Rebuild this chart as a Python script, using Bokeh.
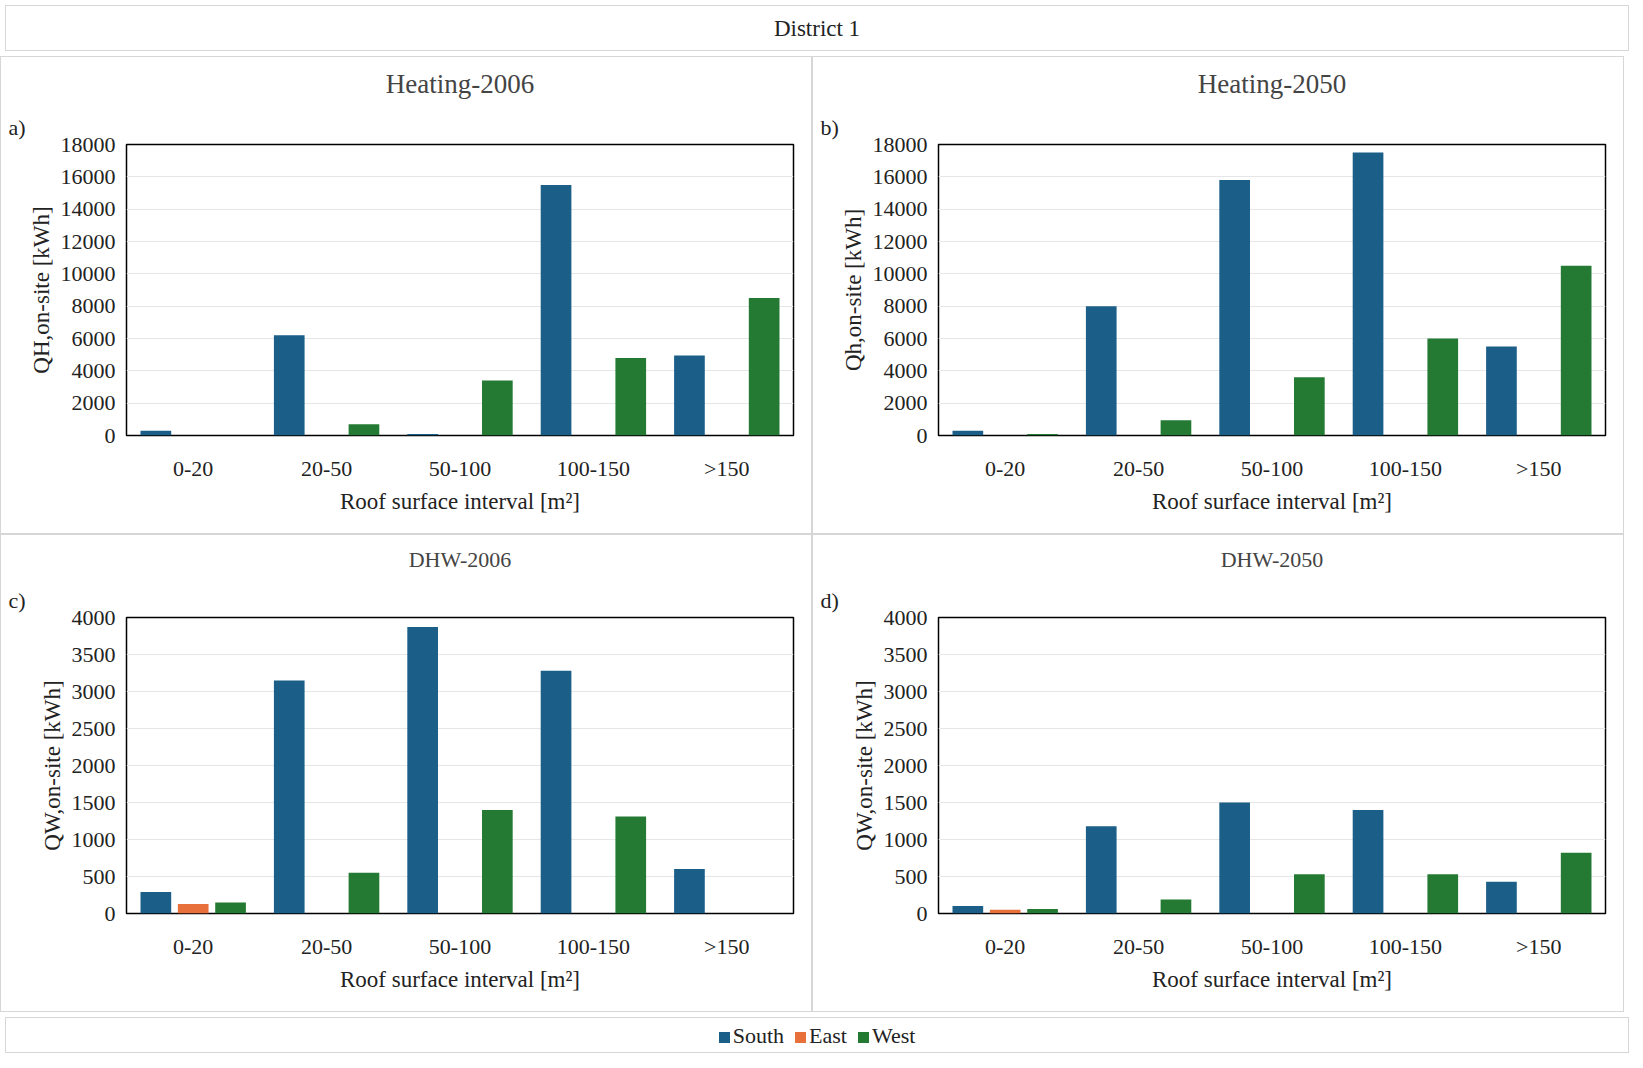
from bokeh.plotting import figure
from bokeh.models import FactorRange, Range1d, SingleIntervalTicker, Title, Div, ColumnDataSource
from bokeh.transform import dodge
from bokeh.layouts import column, row
from bokeh.embed import file_html
from bokeh.resources import INLINE

cats = ["0-20", "20-50", "50-100", "100-150", ">150"]
h06_south = [300, 6200, 100, 15500, 4950]
h06_east = [0, 0, 0, 0, 0]
h06_west = [0, 700, 3400, 4800, 8500]
h50_south = [300, 8000, 15800, 17500, 5500]
h50_east = [0, 0, 0, 0, 0]
h50_west = [100, 950, 3600, 6000, 10500]
d06_south = [290, 3150, 3870, 3280, 600]
d06_east = [130, 0, 0, 0, 0]
d06_west = [150, 550, 1400, 1310, 0]
d50_south = [100, 1180, 1500, 1400, 430]
d50_east = [50, 0, 0, 0, 0]
d50_west = [60, 190, 530, 530, 820]

C_S, C_E, C_W = "#1b5f88", "#e8703a", "#257a33"
FONT = "Liberation Serif"
W, H = 812, 478

def panel(tag, title, ylab, s, e, w, ymax, step, title_size):
    src = ColumnDataSource(dict(c=cats, s=s, e=e, w=w))
    p = figure(x_range=FactorRange(*cats), y_range=Range1d(0, ymax), width=W, height=H,
               output_backend="svg", toolbar_location=None,
               min_border_left=125, min_border_right=20, min_border_top=10, min_border_bottom=100)
    p.title.text = title
    p.title.align = "center"
    p.title.text_font = FONT
    p.title.text_font_style = "normal"
    p.title.text_font_size = title_size
    p.title.offset = 0
    p.title.standoff = 18
    p.add_layout(Title(text=tag, align="left", offset=-118, text_font=FONT, text_font_style="normal",
                       text_font_size="22px", text_color="#222"), "above")
    for off, col, colr in [(-0.28, "s", C_S), (0, "e", C_E), (0.28, "w", C_W)]:
        p.vbar(x=dodge("c", off, range=p.x_range), top=col, width=0.23, source=src,
               fill_color=colr, line_color=None)
    p.yaxis.ticker = SingleIntervalTicker(interval=step)
    p.outline_line_color = "black"
    p.outline_line_width = 1.5
    p.xgrid.grid_line_color = None
    p.ygrid.grid_line_color = "#e6e6e6"
    for ax in (p.xaxis, p.yaxis):
        ax.axis_line_color = None
        ax.major_tick_line_color = None
        ax.minor_tick_line_color = None
        ax.major_label_text_font = FONT
        ax.major_label_text_font_size = "22px"
        ax.major_label_text_color = "#222"
        ax.axis_label_text_font = FONT
        ax.axis_label_text_font_style = "normal"
        ax.axis_label_text_font_size = "23px"
        ax.axis_label_text_color = "#222"
    p.xaxis.axis_label = "Roof surface interval [m²]"
    p.yaxis.axis_label = ylab
    p.xaxis.major_label_standoff = 14
    p.yaxis.axis_label_standoff = 4
    p.styles = {"border": "1px solid #d6d6d6"}
    return p

pa = panel("a)", "Heating-2006", "QH,on-site [kWh]", h06_south, h06_east, h06_west, 18000, 2000, "27px")
pb = panel("b)", "Heating-2050", "Qh,on-site [kWh]", h50_south, h50_east, h50_west, 18000, 2000, "27px")
pc = panel("c)", "DHW-2006", "QW,on-site [kWh]", d06_south, d06_east, d06_west, 4000, 500, "22px")
pd = panel("d)", "DHW-2050", "QW,on-site [kWh]", d50_south, d50_east, d50_west, 4000, 500, "22px")

title = Div(text="District 1", width=2 * W, height=46,
            styles={"font-family": FONT, "font-size": "23px", "text-align": "center",
                    "line-height": "46px", "border": "1px solid #d6d6d6", "width": f"{2*W}px",
                    "box-sizing": "border-box", "color": "#222"})
sq = lambda c: f'<span style="display:inline-block;width:11px;height:11px;background:{c};margin-right:3px"></span>'
legend = Div(text=f'{sq(C_S)}South&nbsp;&nbsp;{sq(C_E)}East&nbsp;&nbsp;{sq(C_W)}West', width=2 * W, height=36,
             styles={"font-family": FONT, "font-size": "22px", "text-align": "center",
                     "line-height": "36px", "border": "1px solid #d6d6d6", "width": f"{2*W}px",
                     "box-sizing": "border-box", "color": "#222"})

layout = column(title, row(pa, pb, spacing=0), row(pc, pd, spacing=0), legend, spacing=0)
open("out.html", "w").write(file_html(layout, INLINE))
